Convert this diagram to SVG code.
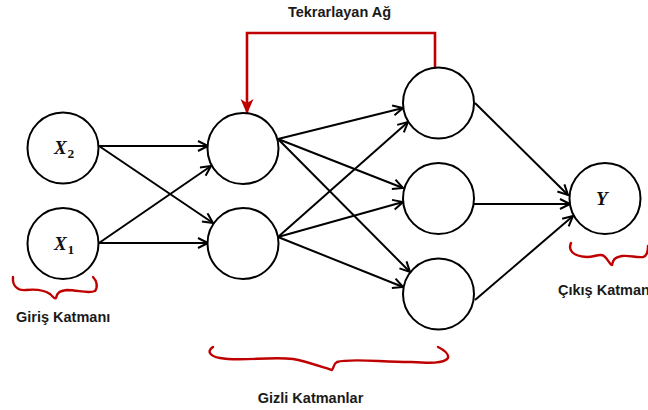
<svg xmlns="http://www.w3.org/2000/svg" width="648" height="410" viewBox="0 0 648 410">
  <style>
    .node { fill: #ffffff; stroke: #000000; stroke-width: 2; }
    .edge { fill: none; stroke: #000000; stroke-width: 2; marker-end: url(#arrow); }
    .loop { fill: none; stroke: #c00000; stroke-width: 2.6; }
    .brace { fill: none; stroke: #c00000; stroke-width: 2.4; stroke-linecap: round; stroke-linejoin: round; }
    .label { font-family: "Liberation Sans", Arial, sans-serif; font-weight: bold; font-size: 14.5px; fill: #1a1a1a; }
    .math { font-family: "Liberation Serif", "Times New Roman", serif; font-style: italic; font-weight: bold; font-size: 19px; fill: #111111; }
    .sub { font-family: "Liberation Serif", "Times New Roman", serif; font-weight: bold; font-size: 13.5px; fill: #111111; }
  </style>
  <defs>
    <marker id="arrow" markerUnits="userSpaceOnUse" markerWidth="14" markerHeight="14" refX="11" refY="6" orient="auto">
      <path d="M1,1 L11,6 L1,11" fill="none" stroke="#000000" stroke-width="2"/>
    </marker>
    <marker id="arrowRed" markerUnits="userSpaceOnUse" markerWidth="16" markerHeight="16" refX="15" refY="7" orient="auto">
      <path d="M0,0.5 L15,7 L0,13.5 L4,7 Z" fill="#c00000"/>
    </marker>
  </defs>

  <!-- connectors -->
  <g id="connectors">
    <!-- input layer to hidden layer 1 -->
    <line class="edge" x1="99" y1="146" x2="208" y2="146"/>
    <line class="edge" x1="99" y1="146" x2="213" y2="223"/>
    <line class="edge" x1="99" y1="243" x2="211" y2="166"/>
    <line class="edge" x1="99" y1="243" x2="208" y2="243"/>
    <!-- hidden layer 1 to hidden layer 2 -->
    <line class="edge" x1="278" y1="139" x2="403" y2="108"/>
    <line class="edge" x1="278" y1="139" x2="403" y2="188"/>
    <line class="edge" x1="278" y1="139" x2="410" y2="272"/>
    <line class="edge" x1="278" y1="237" x2="408" y2="122"/>
    <line class="edge" x1="278" y1="237" x2="403" y2="202"/>
    <line class="edge" x1="278" y1="237" x2="403" y2="287"/>
    <!-- hidden layer 2 to output -->
    <line class="edge" x1="475" y1="103" x2="568" y2="195"/>
    <line class="edge" x1="474" y1="204" x2="570" y2="204"/>
    <line class="edge" x1="475" y1="300" x2="573" y2="216"/>
    <!-- recurrent feedback loop -->
    <path class="loop" d="M435,68 L435,33 L247,33 L247,114" marker-end="url(#arrowRed)"/>
  </g>

  <!-- input layer -->
  <g id="x2">
    <circle class="node" cx="63" cy="148" r="35.5"/>
    <text class="math" x="54" y="154">X</text>
    <text class="sub" x="67.5" y="158">2</text>
  </g>
  <g id="x1">
    <circle class="node" cx="63" cy="243.5" r="35.5"/>
    <text class="math" x="54" y="250">X</text>
    <text class="sub" x="67.5" y="254">1</text>
  </g>

  <!-- hidden layer 1 -->
  <g id="h1a">
    <circle class="node" cx="243" cy="148.5" r="35.5"/>
  </g>
  <g id="h1b">
    <circle class="node" cx="243" cy="243.5" r="35.5"/>
  </g>

  <!-- hidden layer 2 -->
  <g id="h2a">
    <circle class="node" cx="438.5" cy="103" r="35.5"/>
  </g>
  <g id="h2b">
    <circle class="node" cx="438.5" cy="198.5" r="35.5"/>
  </g>
  <g id="h2c">
    <circle class="node" cx="438.5" cy="294" r="35.5"/>
  </g>

  <!-- output layer -->
  <g id="y">
    <circle class="node" cx="605" cy="198.5" r="35.5"/>
    <text class="math" x="596" y="204.5">Y</text>
  </g>

  <!-- layer braces -->
  <g id="braces">
    <path class="brace" d="M13,277 C12,286 18,291 26,290 C35,289 44,290 50,294 C53,297 55,299 56,298 C57,293 59,291 67,290 C78,290 88,294 95,291 C98,287 97,281 93,277"/>
    <path class="brace" d="M213,347 C207,351 209,356 220,358 C240,362 270,356 293,359 C305,361 322,367 332,370 C334,368 333,364 337,362 C350,358 380,362 410,362 C428,363 444,364 448,358 C449,354 444,350 438,347"/>
    <path class="brace" d="M571,243 C568,250 572,256 587,257 C595,257 600,253 604,256 C608,259 610,265 612,265 C613,262 612,258 622,256 C630,255 636,258 643,257 C647,256 648,252 648,246"/>
  </g>

  <!-- labels -->
  <g id="labels">
    <text class="label" x="339.5" y="17" text-anchor="middle">Tekrarlayan Ağ</text>
    <text class="label" x="16" y="322">Giriş Katmanı</text>
    <text class="label" x="310.5" y="403" text-anchor="middle">Gizli Katmanlar</text>
    <text class="label" x="558" y="295">Çıkış Katmanı</text>
  </g>
</svg>
